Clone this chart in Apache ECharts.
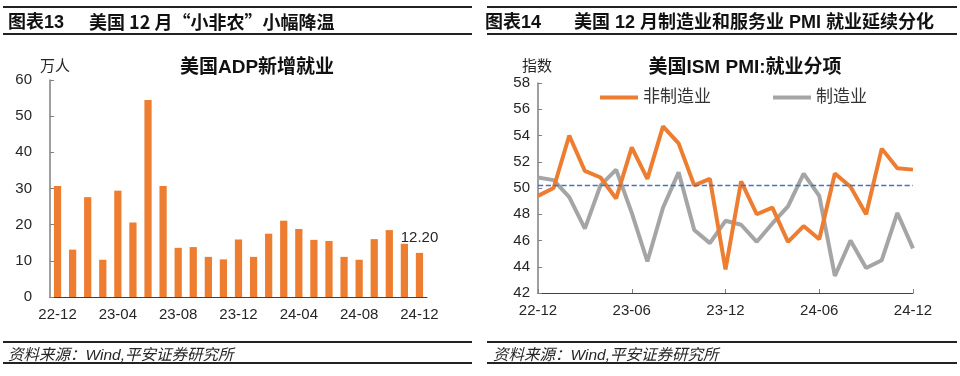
<!DOCTYPE html>
<html>
<head>
<meta charset="utf-8">
<script src="https://cdn.jsdelivr.net/npm/echarts@6/dist/echarts.min.js"></script>
<style>
html,body{margin:0;padding:0;background:#fff;}
#main{width:960px;height:376px;}
</style>
</head>
<body>
<div id="main"></div>
<script>
// 左图：美国ADP新增就业（万人）
var adpMonths = ['22-12','23-01','23-02','23-03','23-04','23-05','23-06','23-07','23-08','23-09','23-10','23-11',
    '23-12','24-01','24-02','24-03','24-04','24-05','24-06','24-07','24-08','24-09','24-10','24-11','24-12'];
var adpValues = [30.7, 13.1, 27.6, 10.3, 29.4, 20.6, 54.5, 30.7, 13.6, 13.8, 11.1, 10.4,
    15.9, 11.1, 17.5, 21.1, 18.8, 15.8, 15.5, 11.1, 10.3, 16.0, 18.5, 14.7, 12.2];
var adpTicks = [0, 10, 20, 30, 40, 50, 60];

// 右图：ISM PMI 就业分项
var pmiMonths = adpMonths.slice();
var pmiService = [49.4, 50.0, 54.0, 51.3, 50.8, 49.2, 53.1, 50.7, 54.7, 53.4, 50.2, 50.7,
    43.8, 50.5, 48.0, 48.5, 45.9, 47.1, 46.1, 51.1, 50.1, 48.0, 53.0, 51.5, 51.4];
var pmiManu = [50.8, 50.6, 49.3, 46.9, 50.2, 51.4, 48.1, 44.4, 48.5, 51.2, 46.8, 45.8,
    47.5, 47.2, 45.9, 47.3, 48.6, 51.1, 49.4, 43.3, 46.0, 43.9, 44.5, 48.1, 45.4];
var pmiTicks = [42, 44, 46, 48, 50, 52, 54, 56, 58];
var pmiRef = 50.2;

var FONT = '"Liberation Sans", "Noto Sans CJK SC", sans-serif';
var CJK = '"Noto Sans CJK SC", "Liberation Sans", sans-serif';
var axisColor = '#7f7f7f';
var txtColor = '#262626';

var chart = echarts.init(document.getElementById('main'));

// 头尾的横线
function hline(x1, x2, y, w){
    return {type:'line', shape:{x1:x1, y1:y, x2:x2, y2:y}, style:{stroke:'#222', lineWidth:w}, silent:true};
}
function head(text, left){
    return {text:text, left:left, top:9, textStyle:{fontSize:18, fontWeight:'bold', color:'#111', fontFamily:FONT}};
}

var option = {
    backgroundColor: '#fff',
    animation: false,
    textStyle: {fontFamily: FONT},
    title: [
        head('图表13', 3),
        {text:'美国 12 月“小非农”小幅降温', left:84, top:8, textStyle:{fontSize:18, fontWeight:'bold', color:'#111', fontFamily:CJK}},
        head('图表14', 480),
        head('美国 12 月制造业和服务业 PMI 就业延续分化', 569),
        {text:'美国ADP新增就业', left:252, top:53, textAlign:'center', textStyle:{fontSize:19, fontWeight:'bold', color:'#111', fontFamily:FONT}},
        {text:'美国ISM PMI:就业分项', left:740, top:53, textAlign:'center', textStyle:{fontSize:19, fontWeight:'bold', color:'#111', fontFamily:FONT}},
        {text:'万人', left:35, top:54, textStyle:{fontSize:15, fontWeight:'normal', color:txtColor, fontFamily:FONT}},
        {text:'指数', left:517, top:54, textStyle:{fontSize:15, fontWeight:'normal', color:txtColor, fontFamily:FONT}},
        {text:'资料来源：Wind,平安证券研究所', left:3, top:343, textStyle:{fontSize:15.5, fontWeight:'normal', fontStyle:'italic', color:txtColor, fontFamily:FONT}},
        {text:'资料来源：Wind,平安证券研究所', left:488, top:343, textStyle:{fontSize:15.5, fontWeight:'normal', fontStyle:'italic', color:txtColor, fontFamily:FONT}}
    ],
    graphic: [
        hline(3, 472, 7, 2), hline(3, 472, 34, 2), hline(3, 472, 342, 2), hline(3, 472, 363, 2),
        hline(487, 957, 7, 2), hline(487, 957, 34, 2), hline(487, 957, 342, 2), hline(487, 957, 363, 2)
    ],
    legend: {
        data: ['非制造业', '制造业'],
        left: 595, top: 84,
        itemWidth: 38, itemHeight: 4, itemGap: 62,
        icon: 'rect',
        textStyle: {fontSize:17, color:'#333', fontFamily:FONT}
    },
    grid: [
        {left:50, top:80, width:377, height:217},
        {left:538, top:83, width:375, height:210}
    ],
    xAxis: [
        {
            gridIndex: 0, type: 'category', data: adpMonths, boundaryGap: true,
            axisLine: {lineStyle:{color:'#404040', width:1}},
            axisTick: {inside:true, length:4, interval:3, lineStyle:{color:axisColor}},
            axisLabel: {interval:3, fontSize:15, color:txtColor, margin:10, fontFamily:FONT},
            splitLine: {show:false}
        },
        {
            gridIndex: 1, type: 'category', data: pmiMonths, boundaryGap: false,
            axisLine: {lineStyle:{color:'#404040', width:1}},
            axisTick: {inside:true, length:4, interval:5, lineStyle:{color:axisColor}},
            axisLabel: {interval:5, fontSize:15, color:txtColor, margin:10, fontFamily:FONT},
            splitLine: {show:false}
        }
    ],
    yAxis: [
        {
            gridIndex: 0, type: 'value',
            min: adpTicks[0], max: adpTicks[adpTicks.length - 1], interval: 10,
            axisLine: {show:true, lineStyle:{color:axisColor, width:1.5}},
            axisTick: {show:true, inside:true, length:4, lineStyle:{color:axisColor}},
            axisLabel: {fontSize:15, color:txtColor, margin:18, fontFamily:FONT},
            splitLine: {show:false}
        },
        {
            gridIndex: 1, type: 'value',
            min: pmiTicks[0], max: pmiTicks[pmiTicks.length - 1], interval: 2,
            axisLine: {show:true, lineStyle:{color:axisColor, width:1.5}},
            axisTick: {show:true, inside:true, length:4, lineStyle:{color:axisColor}},
            axisLabel: {fontSize:15, color:txtColor, margin:8, fontFamily:FONT},
            splitLine: {show:false}
        }
    ],
    series: [
        {
            name: 'ADP新增就业', type: 'bar', xAxisIndex: 0, yAxisIndex: 0,
            data: adpValues.map(function(v, i){
                if (i === adpValues.length - 1) {
                    return {value: v, label: {show:true, position:'top', distance:8, formatter: function(p){ return p.value.toFixed(2); },
                        fontSize:15, color:txtColor, fontFamily:FONT}};
                }
                return v;
            }),
            barWidth: '48%',
            itemStyle: {color: '#ED7D31'}
        },
        {
            name: '非制造业', type: 'line', xAxisIndex: 1, yAxisIndex: 1,
            data: pmiService, symbol: 'none',
            lineStyle: {color:'#ED7D31', width:4},
            itemStyle: {color:'#ED7D31'},
            markLine: {
                silent: true, symbol: 'none', label: {show:false},
                lineStyle: {color:'#4472C4', type:'dashed', width:1.3, opacity:1},
                data: [{yAxis: pmiRef, lineStyle:{color:'#4472C4'}}]
            },
            z: 3
        },
        {
            name: '制造业', type: 'line', xAxisIndex: 1, yAxisIndex: 1,
            data: pmiManu, symbol: 'none',
            lineStyle: {color:'#A5A5A5', width:4},
            itemStyle: {color:'#A5A5A5'},
            z: 2
        }
    ]
};
chart.setOption(option);
</script>
</body>
</html>
